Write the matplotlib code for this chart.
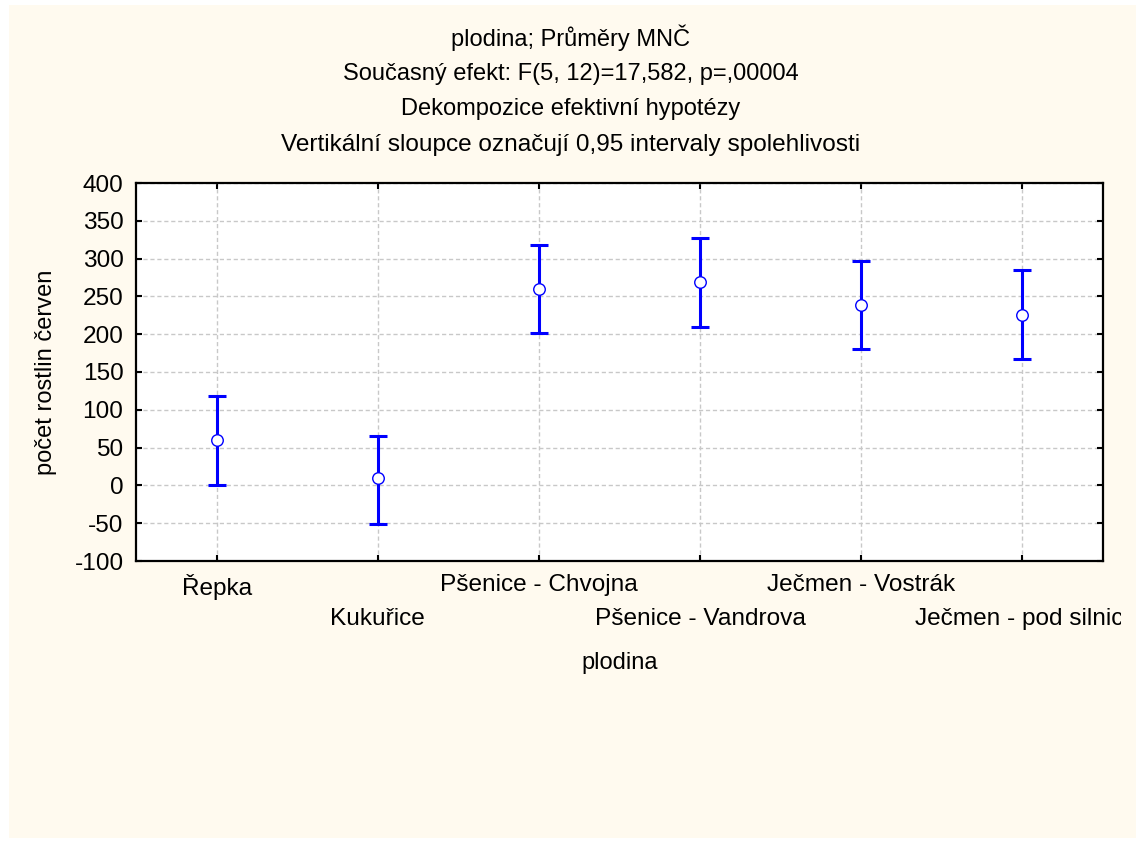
import matplotlib
matplotlib.use("Agg")
import matplotlib.pyplot as plt
from matplotlib.patches import Rectangle
from matplotlib.transforms import Bbox, TransformedBbox

plt.rcParams['font.family'] = ['Liberation Sans', 'DejaVu Sans']

categories = ["Řepka", "Kukuřice", "Pšenice - Chvojna", "Pšenice - Vandrova",
              "Ječmen - Vostrák", "Ječmen - pod silnicí"]
means = [60, 10, 260, 269, 239, 226]
lower = [1, -51, 201, 210, 180, 167]
upper = [118, 66, 318, 327, 297, 285]
yticks = [-100, -50, 0, 50, 100, 150, 200, 250, 300, 350, 400]

titles = ["plodina; Průměry MNČ",
          "Současný efekt: F(5, 12)=17,582, p=,00004",
          "Dekompozice efektivní hypotézy",
          "Vertikální sloupce označují 0,95 intervaly spolehlivosti"]
title_sizes = [17, 17, 17, 17.6]

W, H = 1141, 843
fig = plt.figure(figsize=(W / 100, H / 100), dpi=100, facecolor='white')
bg = Rectangle((9 / W, 1 - 838 / H), (1136 - 9) / W, (838 - 5) / H,
               transform=fig.transFigure, facecolor='#FFFAEF',
               edgecolor='none', zorder=-10)
fig.patches.append(bg)

ax = fig.add_axes([136 / W, 1 - 561 / H, (1103 - 136) / W, (561 - 183) / H])
ax.set_zorder(1)
ax.set_facecolor('white')

x = list(range(1, len(categories) + 1))
err_lo = [m - l for m, l in zip(means, lower)]
err_hi = [u - m for m, u in zip(means, upper)]
ax.errorbar(x, means, yerr=[err_lo, err_hi], fmt='none', ecolor='#0000FF',
            elinewidth=2.2, capsize=6.3, capthick=2.2, zorder=3)
ax.plot(x, means, linestyle='none', marker='o', markersize=8.3,
        markerfacecolor='white', markeredgecolor='#0000FF', markeredgewidth=1.0,
        zorder=4)

ax.set_xlim(0.5, len(categories) + 0.5)
ax.set_ylim(-100, 400)
ax.set_yticks(yticks)
ax.set_yticklabels([str(v) for v in yticks])
ax.set_xticks(x)
ax.set_xticklabels(categories)

ax.grid(True, color='#c8c8c8', linestyle=(0, (3, 2)), linewidth=1.0)
ax.set_axisbelow(True)
for s in ax.spines.values():
    s.set_linewidth(1.6)
    s.set_color('black')
ax.tick_params(axis='both', direction='in', length=4, width=1.5,
               top=True, right=True, labelsize=17.6, colors='black')
ax.tick_params(axis='y', pad=9)

for i, t in enumerate(ax.xaxis.get_major_ticks()):
    t.set_pad(9.5 if i % 2 == 0 else 33.5)

ax.set_ylabel("počet rostlin červen", fontsize=17)
ax.set_xlabel("plodina", fontsize=17)
ax.xaxis.set_label_coords(0.5, -(663 - 561) / (561 - 183))
ax.yaxis.set_label_coords(-(136 - 46) / (1103 - 136), 0.5)
ax.xaxis.label.set_va('center')
ax.yaxis.label.set_va('center')

for i, t in enumerate(titles):
    fig.text(571 / W, 1 - (38 + 35.6 * i) / H, t, ha='center', va='center',
             fontsize=title_sizes[i])

fig.canvas.draw()
clip = TransformedBbox(Bbox([[0, 0], [1121 / W, 1]]), fig.transFigure)
for lab in ax.get_xticklabels():
    lab.set_clip_box(clip)
    lab.set_clip_on(True)

fig.savefig("out.png", dpi=100, facecolor='white')
